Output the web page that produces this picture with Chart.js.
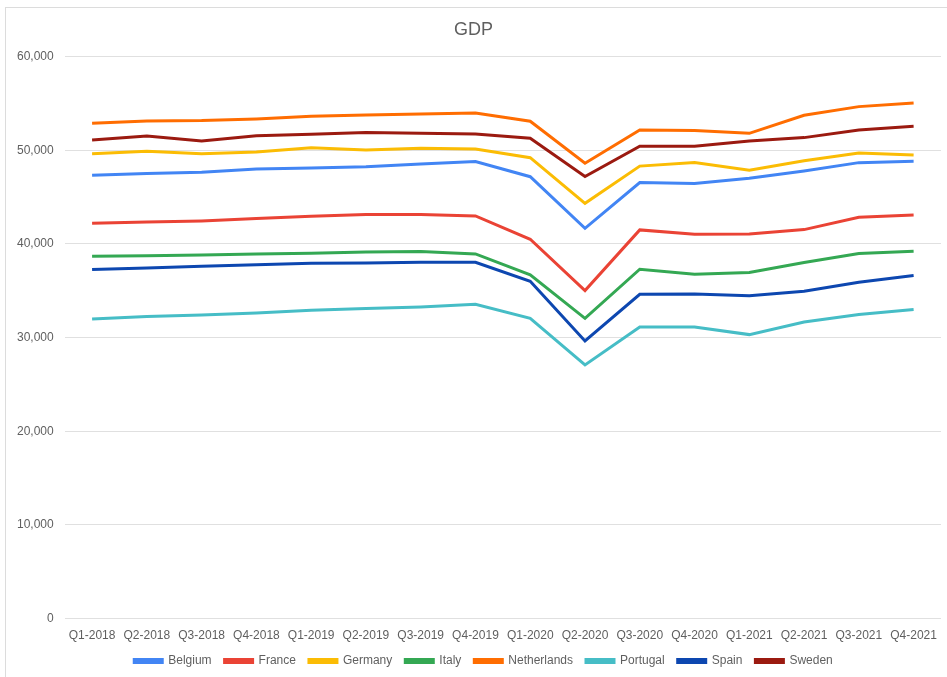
<!DOCTYPE html>
<html>
<head>
<meta charset="utf-8">
<script src="https://cdn.jsdelivr.net/npm/chart.js@4"></script>
<style>
  html, body { margin: 0; padding: 0; background: #fff; }
  #frame {
    position: absolute; left: 5px; top: 7px; width: 942px; height: 670px;
    border-left: 1px solid #dcdcdc; border-top: 1px solid #dcdcdc;
  }
  #wrap { position: absolute; left: 0; top: 0; width: 947px; height: 677px; }
</style>
</head>
<body>
<div id="frame"></div>
<div id="wrap"><canvas id="gdpChart"></canvas></div>
<script>
const quarters = ['Q1-2018','Q2-2018','Q3-2018','Q4-2018','Q1-2019','Q2-2019','Q3-2019','Q4-2019',
                  'Q1-2020','Q2-2020','Q3-2020','Q4-2020','Q1-2021','Q2-2021','Q3-2021','Q4-2021'];

const belgium     = [47330,47510,47650,48000,48110,48250,48540,48790,47180,41670,46550,46440,47010,47790,48680,48820];
const france      = [42210,42330,42460,42710,42960,43130,43130,42990,40500,35020,41500,41030,41060,41530,42850,43100];
const germany     = [49640,49890,49640,49820,50280,50030,50210,50140,49210,44340,48310,48700,47860,48890,49710,49500];
const italy       = [38680,38750,38820,38930,39000,39140,39180,38930,36690,32060,37300,36760,36940,38010,38970,39220];
const netherlands = [52880,53130,53170,53350,53630,53770,53880,53990,53100,48610,52170,52100,51810,53740,54660,55050];
const portugal    = [31990,32240,32420,32630,32910,33100,33270,33550,32060,27080,31140,31140,30320,31670,32460,32990];
const spain       = [37260,37440,37610,37790,37930,37970,38040,38040,36010,29640,34620,34660,34480,34940,35900,36620];
const sweden      = [51100,51520,50990,51560,51700,51890,51810,51740,51280,47190,50430,50430,50990,51350,52170,52560];

const series = [
    { label: 'Belgium',     data: belgium,     color: '#4285F4' },
    { label: 'France',      data: france,      color: '#EA4335' },
    { label: 'Germany',     data: germany,     color: '#FBBC04' },
    { label: 'Italy',       data: italy,       color: '#34A853' },
    { label: 'Netherlands', data: netherlands, color: '#FF6D01' },
    { label: 'Portugal',    data: portugal,    color: '#46BDC6' },
    { label: 'Spain',       data: spain,       color: '#0D47B0' },
    { label: 'Sweden',      data: sweden,      color: '#9B1A10' }
];

const textColor = '#5f5f5f';

// nudge the legend row a little to the right of the canvas centre
const legendShift = {
    id: 'legendShift',
    afterLayout(chart) {
        chart.legend.left += 10;
        chart.legend.right += 10;
        chart.legend.adjustHitBoxes();
    }
};

new Chart(document.getElementById('gdpChart').getContext('2d'), {
    type: 'line',
    data: {
        labels: quarters,
        datasets: series.map(s => ({
            label: s.label,
            data: s.data,
            borderColor: s.color,
            backgroundColor: s.color,
            borderWidth: 3,
            pointRadius: 0,
            tension: 0,
            fill: false
        }))
    },
    options: {
        responsive: true,
        maintainAspectRatio: false,
        animation: false,
        layout: { padding: { left: 6, right: 6, top: 13, bottom: 0 } },
        plugins: {
            title: {
                display: true,
                text: 'GDP',
                color: textColor,
                font: { family: 'Liberation Sans', size: 18, weight: 'normal' },
                padding: { top: 6, bottom: 16 }
            },
            legend: {
                position: 'bottom',
                labels: {
                    color: textColor,
                    font: { family: 'Liberation Sans', size: 12 },
                    boxWidth: 28,
                    boxHeight: 3,
                    padding: 13
                }
            },
            tooltip: { enabled: false }
        },
        scales: {
            x: {
                offset: true,
                grid: { display: false },
                border: { display: false },
                afterFit: axis => { axis.height -= 3; },
                ticks: {
                    color: textColor,
                    font: { family: 'Liberation Sans', size: 12 },
                    maxRotation: 0,
                    autoSkip: false,
                    padding: 2
                }
            },
            y: {
                min: 0,
                max: 60000,
                grid: { color: '#e0e0e0', drawTicks: false },
                border: { display: false },
                ticks: {
                    stepSize: 10000,
                    color: textColor,
                    font: { family: 'Liberation Sans', size: 12 },
                    padding: 11,
                    callback: v => v.toLocaleString('en-US')
                }
            }
        }
    },
    plugins: [legendShift]
});
</script>
</body>
</html>
